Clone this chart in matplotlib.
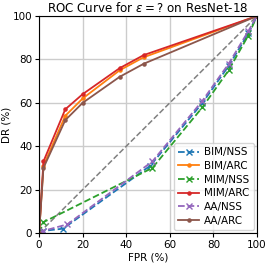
import numpy as np
import matplotlib
matplotlib.use('Agg')
import matplotlib.pyplot as plt

# ROC points (FPR %, DR %)
fpr_nss_bim = [0, 2, 11, 51, 75, 87, 96, 100]
dr_nss_bim = [0, 1, 2, 31, 60, 77, 92, 100]
fpr_nss_mim = [0, 2, 52, 75, 87, 96, 100]
dr_nss_mim = [0, 5, 30, 58, 75, 91, 100]
fpr_nss_aa = [0, 2, 13, 52, 75, 87, 96, 100]
dr_nss_aa = [0, 1, 4, 33, 61, 78, 93, 100]

fpr_arc = [0, 2, 12, 20, 37, 48, 100]
dr_arc_bim = [0, 31, 54, 62, 75, 81, 100]
dr_arc_mim = [0, 33, 57, 64, 76, 82, 100]
dr_arc_aa = [0, 30, 52, 60, 72, 78, 100]

fig = plt.figure(figsize=(2.66, 2.63), dpi=100)
ax = fig.add_axes([0.147, 0.114, 0.819, 0.825])

fs = 7.5
lw = 1.3
ax.plot([0, 100], [0, 100], '--', color='gray', lw=1.1)
ax.plot(fpr_nss_bim, dr_nss_bim, 'x--', color='tab:blue', lw=lw, ms=4.5, label='BIM/NSS')
ax.plot(fpr_arc, dr_arc_bim, '.-', color='tab:orange', lw=lw, ms=4.5, label='BIM/ARC')
ax.plot(fpr_nss_mim, dr_nss_mim, 'x--', color='tab:green', lw=lw, ms=4.5, label='MIM/NSS')
ax.plot(fpr_arc, dr_arc_mim, '.-', color='tab:red', lw=lw, ms=4.5, label='MIM/ARC')
ax.plot(fpr_nss_aa, dr_nss_aa, 'x--', color='tab:purple', lw=lw, ms=4.5, label='AA/NSS')
ax.plot(fpr_arc, dr_arc_aa, '.-', color='tab:brown', lw=lw, ms=4.5, label='AA/ARC')

ax.set_xlim(0, 100)
ax.set_ylim(0, 100)
ax.set_xticks(np.arange(0, 101, 20))
ax.set_yticks(np.arange(0, 101, 20))
ax.tick_params(labelsize=fs, length=3, pad=2)
ax.grid(True, color='#cccccc', lw=1)
ax.set_axisbelow(True)
ax.set_xlabel('FPR (%)', fontsize=fs, labelpad=2)
ax.set_ylabel('DR (%)', fontsize=fs, labelpad=1)
ax.set_title(r'ROC Curve for $\epsilon = ?$ on ResNet-18', fontsize=8.6, pad=3)
ax.legend(loc='lower right', fontsize=fs, handlelength=2, borderpad=0.4,
          labelspacing=0.35, handletextpad=0.5, borderaxespad=0.3)

fig.savefig('out.png', dpi=100)
